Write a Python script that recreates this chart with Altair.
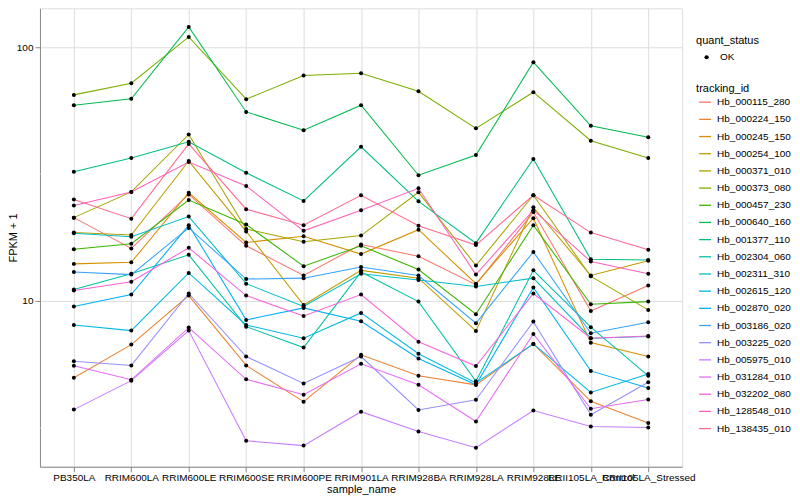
import altair as alt
import pandas as pd

samples = ["PB350LA", "RRIM600LA", "RRIM600LE", "RRIM600SE", "RRIM600PE",
           "RRIM901LA", "RRIM928BA", "RRIM928LA", "RRIM928LE",
           "RRII105LA_Control", "RRII105LA_Stressed"]

tracking_ids = ["Hb_000115_280", "Hb_000224_150", "Hb_000245_150", "Hb_000254_100",
                "Hb_000371_010", "Hb_000373_080", "Hb_000457_230", "Hb_000640_160",
                "Hb_001377_110", "Hb_002304_060", "Hb_002311_310", "Hb_002615_120",
                "Hb_002870_020", "Hb_003186_020", "Hb_003225_020", "Hb_005975_010",
                "Hb_031284_010", "Hb_032202_080", "Hb_128548_010", "Hb_138435_010"]

# FPKM + 1 per sample (same order as samples)
hb_000115_280 = [21.3, 16.1, 26.3, 16.5, 12.6, 16.7, 15.0, 11.6, 22.4, 9.13, 11.5]
hb_000224_150 = [4.98, 6.73, 10.5, 5.57, 4.01, 6.13, 5.07, 4.67, 6.77, 4.02, 3.30]
hb_000245_150 = [14.0, 14.2, 26.7, 17.0, 18.0, 15.3, 19.1, 11.7, 21.2, 6.85, 6.04]
hb_000254_100 = [18.6, 18.2, 35.6, 18.8, 9.64, 13.2, 12.3, 7.62, 23.4, 12.6, 14.4]
hb_000371_010 = [21.3, 26.9, 45.3, 19.2, 17.1, 18.1, 26.8, 13.8, 26.1, 12.5, 9.22]
hb_000373_080 = [64.9, 72.2, 109.8, 62.4, 77.4, 79.0, 67.1, 47.9, 66.5, 42.8, 36.6]
hb_000457_230 = [16.0, 16.8, 25.0, 20.0, 13.7, 16.5, 13.3, 8.86, 19.9, 9.70, 9.94]
hb_000640_160 = [59.1, 62.6, 120.2, 55.6, 47.1, 59.1, 31.3, 37.6, 87.3, 49.0, 44.2]
hb_001377_110 = [32.3, 36.6, 42.4, 32.0, 24.8, 40.5, 24.7, 16.9, 36.3, 14.6, 14.5]
hb_002304_060 = [11.1, 12.8, 15.2, 7.92, 6.55, 13.0, 9.94, 4.82, 13.2, 7.88, 5.07]
hb_002311_310 = [18.5, 17.9, 21.5, 11.7, 9.51, 12.8, 12.1, 11.4, 12.3, 7.13, 7.24]
hb_002615_120 = [8.04, 7.64, 12.9, 8.04, 7.13, 8.97, 6.19, 4.75, 6.77, 4.36, 5.15]
hb_002870_020 = [9.50, 10.6, 19.9, 8.42, 9.39, 8.32, 5.93, 4.67, 11.3, 5.30, 4.54]
hb_003186_020 = [13.0, 12.7, 19.4, 12.2, 12.3, 13.6, 12.6, 8.17, 15.6, 7.46, 8.24]
hb_003225_020 = [5.79, 5.57, 10.7, 6.04, 4.73, 6.04, 3.72, 4.08, 8.29, 3.56, 4.78]
hb_005975_010 = [3.73, 4.85, 7.64, 2.81, 2.69, 3.66, 3.06, 2.64, 3.70, 3.20, 3.17]
hb_031284_010 = [5.55, 4.89, 7.85, 4.91, 4.27, 5.65, 4.67, 3.35, 7.41, 3.76, 4.09]
hb_032202_080 = [11.0, 11.9, 16.2, 10.5, 8.73, 10.6, 6.91, 5.54, 10.7, 7.13, 7.28]
hb_128548_010 = [23.8, 26.9, 35.3, 28.4, 18.9, 22.8, 27.8, 12.7, 22.8, 14.3, 12.8]
hb_138435_010 = [25.1, 21.1, 41.6, 23.0, 19.9, 26.1, 19.8, 16.6, 26.1, 18.6, 15.9]

series = [hb_000115_280, hb_000224_150, hb_000245_150, hb_000254_100, hb_000371_010,
          hb_000373_080, hb_000457_230, hb_000640_160, hb_001377_110, hb_002304_060,
          hb_002311_310, hb_002615_120, hb_002870_020, hb_003186_020, hb_003225_020,
          hb_005975_010, hb_031284_010, hb_032202_080, hb_128548_010, hb_138435_010]

palette = ["#F8766D", "#EA8331", "#D89000", "#C09B00", "#A3A500", "#7CAE00", "#39B600",
           "#00BB4E", "#00BF7D", "#00C1A3", "#00BFC4", "#00BAE0", "#00B0F6", "#35A2FF",
           "#9590FF", "#C77CFF", "#E76BF3", "#FA62DB", "#FF62BC", "#FF6C91"]

y_major = [10, 100]
y_minor = [3.1623, 31.623]

rows = []
for tid, vals in zip(tracking_ids, series):
    for s, v in zip(samples, vals):
        rows.append({"tracking_id": tid, "sample_name": s, "fpkm_plus_1": v,
                     "quant_status": "OK"})
df = pd.DataFrame(rows)
minor_df = pd.DataFrame({"fpkm_plus_1": y_minor})

FONT = "Liberation Sans"

xenc = alt.X("sample_name:N", sort=samples,
             scale=alt.Scale(type="point", padding=0.59),
             axis=alt.Axis(title="sample_name", labelAngle=0, labelOverlap=False,
                           labelBound=False, grid=True, labelPadding=1,
                           titleX=321.5, titleY=22.5, titleBaseline="middle",
                           titleAlign="center", titleFontWeight=400))
yaxis = alt.Axis(title="FPKM + 1", values=y_major, format=".0f", grid=True,
                 titleX=-26, titleY=229.5, titleAngle=270,
                 titleBaseline="middle", titleAlign="center", titleFontWeight=400)
yscale = alt.Scale(type="log", domain=[2.221, 142.4], nice=False)

minor = alt.Chart(minor_df).mark_rule(color="white", strokeWidth=0.55).encode(
    y=alt.Y("fpkm_plus_1:Q", scale=yscale, axis=yaxis)
)

lines = alt.Chart(df).mark_line(strokeWidth=1.05).encode(
    x=xenc,
    y=alt.Y("fpkm_plus_1:Q", scale=yscale, axis=yaxis),
    color=alt.Color("tracking_id:N",
                    scale=alt.Scale(domain=tracking_ids, range=palette),
                    legend=alt.Legend(title="tracking_id", orient="none",
                                      legendX=657, legendY=75,
                                      symbolType="stroke", symbolSize=144,
                                      symbolStrokeWidth=1.3, symbolOffset=2,
                                      labelOffset=5, rowPadding=5.2,
                                      titlePadding=1, padding=0,
                                      titleFontWeight=400)),
    detail="tracking_id:N",
)

points = alt.Chart(df).mark_point(filled=True, color="black", size=16, opacity=1).encode(
    x=xenc,
    y=alt.Y("fpkm_plus_1:Q", scale=yscale, axis=yaxis),
    shape=alt.Shape("quant_status:N", scale=alt.Scale(range=["circle"]),
                    legend=alt.Legend(title="quant_status", orient="none",
                                      legendX=657, legendY=27,
                                      symbolSize=18, symbolFillColor="black",
                                      symbolStrokeColor="black", symbolOffset=5.5,
                                      labelOffset=8.5, titlePadding=6, padding=0,
                                      titleFontWeight=400)),
)

chart = alt.layer(minor, lines, points).properties(
    width=643, height=459,
    padding={"left": 32, "top": 0, "right": 110, "bottom": 28},
    autosize=alt.AutoSizeParams(type="none"),
).configure_view(
    fill="#EBEBEB", stroke="transparent"
).configure_axis(
    labelFont=FONT, labelFontSize=8.6, labelColor="#4D4D4D",
    titleFont=FONT, titleFontSize=11, titleColor="black", titleFontWeight=400,
    tickColor="#333333", tickSize=3.5, tickWidth=1, domain=False,
    gridColor="white", gridWidth=1.1, labelPadding=2
).configure_legend(
    labelFont=FONT, labelFontSize=8.6, labelColor="black",
    titleFont=FONT, titleFontSize=11, titleColor="black", titleFontWeight=400
).configure(background="white")

chart.save("out.html", embed_options={"renderer": "svg", "actions": False})
